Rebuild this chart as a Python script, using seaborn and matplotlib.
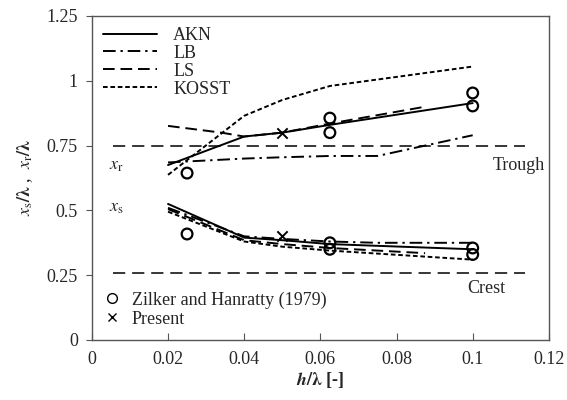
import matplotlib
matplotlib.use('Agg')
import matplotlib.pyplot as plt
import seaborn as sns
from matplotlib.lines import Line2D

sns.set_style('white')
plt.rcParams['font.family'] = ['Liberation Serif', 'DejaVu Serif']
plt.rcParams['mathtext.fontset'] = 'stix'

# reattachment point x_r / lambda
h_akn = [0.02, 0.04, 0.05, 0.0625, 0.1]
xr_akn = [0.675, 0.785, 0.80, 0.83, 0.914]
h_lb = [0.02, 0.04, 0.05, 0.0625, 0.075, 0.1]
xr_lb = [0.685, 0.70, 0.705, 0.71, 0.71, 0.79]
h_ls = [0.02, 0.034, 0.04, 0.05, 0.0625, 0.0875]
xr_ls = [0.826, 0.80, 0.785, 0.80, 0.835, 0.90]
h_kosst = [0.02, 0.04, 0.05, 0.0625, 0.1]
xr_kosst = [0.637, 0.865, 0.926, 0.98, 1.055]

# separation point x_s / lambda
xs_akn = [0.525, 0.395, 0.385, 0.37, 0.35]
xs_lb = [0.51, 0.40, 0.39, 0.38, 0.375, 0.375]
h_ls_s = [0.02, 0.04, 0.05, 0.0625, 0.0875]
xs_ls = [0.505, 0.385, 0.37, 0.355, 0.335]
xs_kosst = [0.495, 0.38, 0.36, 0.345, 0.31]

# experiments
h_zh = [0.025, 0.0625, 0.0625, 0.1, 0.1, 0.025, 0.0625, 0.0625, 0.1, 0.1]
x_zh = [0.644, 0.856, 0.80, 0.953, 0.903, 0.409, 0.375, 0.35, 0.355, 0.33]
h_present = [0.05, 0.05]
x_present = [0.80, 0.40]

trough = 0.75
crest = 0.26

fig, ax = plt.subplots(figsize=(5.67, 4.0), dpi=100)

styles = {
    'AKN': dict(ls='-', lw=1.4),
    'LB': dict(ls=(0, (6.5, 2.5, 1.2, 2.5)), lw=1.4),
    'LS': dict(ls=(0, (6, 3)), lw=1.4),
    'KOSST': dict(ls=(0, (2.4, 1.4)), lw=1.4),
}
series = [('AKN', h_akn, xr_akn, h_akn, xs_akn),
          ('LB', h_lb, xr_lb, h_lb, xs_lb),
          ('LS', h_ls, xr_ls, h_ls_s, xs_ls),
          ('KOSST', h_kosst, xr_kosst, h_kosst, xs_kosst)]
for name, hr, yr, hs, ys in series:
    sns.lineplot(x=hr, y=yr, ax=ax, color='black', sort=False, **styles[name])
    sns.lineplot(x=hs, y=ys, ax=ax, color='black', sort=False, **styles[name])

ax.hlines([trough, crest], 0.0055, 0.1138, colors='black', lw=1.1,
          linestyles=(0, (8, 4.5)))

sns.scatterplot(x=h_zh, y=x_zh, ax=ax, marker='o', s=60, facecolor='none',
                edgecolor='black', linewidth=1.6, zorder=5)
sns.scatterplot(x=h_present, y=x_present, ax=ax, marker='x', s=55,
                color='black', linewidth=1.4, zorder=5)

ax.text(0.0045, 0.675, r'$x_{\mathrm{r}}$', fontsize=13, va='center')
ax.text(0.0045, 0.51, r'$x_{\mathrm{s}}$', fontsize=13, va='center')
ax.text(0.119, 0.675, 'Trough', fontsize=13, ha='right', va='center')
ax.text(0.1085, 0.20, 'Crest', fontsize=13, ha='right', va='center')

ax.set_xlim(0, 0.12)
ax.set_ylim(0, 1.25)
ax.set_xticks([0, 0.02, 0.04, 0.06, 0.08, 0.1, 0.12])
ax.set_xticklabels(['0', '0.02', '0.04', '0.06', '0.08', '0.1', '0.12'])
ax.set_yticks([0, 0.25, 0.5, 0.75, 1, 1.25])
ax.set_yticklabels(['0', '0.25', '0.5', '0.75', '1', '1.25'])
ax.tick_params(axis='x', direction='in', length=5, labelsize=13, pad=8,
               color='#555555', bottom=True)
ax.tick_params(axis='y', direction='out', length=4, labelsize=13, pad=6,
               color='#555555', left=True)
for sp in ax.spines.values():
    sp.set_color('#555555')
    sp.set_linewidth(1.0)

ax.set_xlabel(r'$\boldsymbol{h/\lambda}$ [-]', fontsize=13, fontweight='bold',
              labelpad=1)
ax.set_ylabel(r'$\boldsymbol{x_{\mathrm{s}}/\lambda}$ ,  $\boldsymbol{x_{\mathrm{r}}/\lambda}$',
              fontsize=13, labelpad=8)

handles = [Line2D([], [], color='black', **styles[n]) for n in ['AKN', 'LB', 'LS', 'KOSST']]
leg1 = ax.legend(handles, ['AKN', 'LB', 'LS', 'KOSST'], loc='upper left',
                 frameon=False, fontsize=13, handlelength=3.0, labelspacing=0.05,
                 borderaxespad=0.2, handletextpad=0.9)
ax.add_artist(leg1)
mk = [Line2D([], [], marker='o', ls='none', mfc='none', mec='black', ms=7),
      Line2D([], [], marker='x', ls='none', color='black', ms=6)]
ax.legend(mk, ['Zilker and Hanratty (1979)', 'Present'], loc='lower left',
          bbox_to_anchor=(-0.012, -0.012), frameon=False, fontsize=13,
          handlelength=1.0, labelspacing=0.1, handletextpad=0.6)

fig.subplots_adjust(left=0.162, right=0.968, top=0.96, bottom=0.15)
fig.savefig('out.png', dpi=100)
